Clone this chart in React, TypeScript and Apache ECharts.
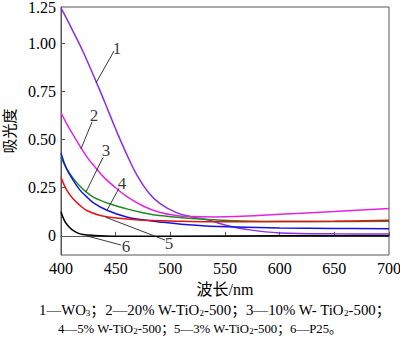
import React, { useEffect, useRef } from "react";
import * as echarts from "echarts";

const xTicksMin = 400;
const xTicksMax = 700;
const xInterval = 50;

const yTickValues = [0, 0.25, 0.5, 0.75, 1.0, 1.19];
const yTickLabels = ["0", "0.25", "0.50", "0.75", "1.00", "1.25"];

const wl1 = [400, 410, 420, 430, 440, 450, 460, 470, 480, 490, 505, 520, 536, 550, 570, 600, 650, 700];
const ab1 = [1.185, 1.075, 0.96, 0.83, 0.695, 0.555, 0.425, 0.31, 0.225, 0.17, 0.122, 0.098, 0.08, 0.056, 0.033, 0.015, 0.01, 0.009];

const wl2 = [400, 405, 410, 418, 425, 430, 440, 450, 460, 475, 490, 505, 520, 540, 560, 600, 650, 700];
const ab2 = [0.64, 0.585, 0.535, 0.46, 0.4, 0.365, 0.3, 0.25, 0.205, 0.155, 0.122, 0.106, 0.1, 0.098, 0.1, 0.112, 0.126, 0.142];

const wl3 = [400, 405, 411, 417, 423, 430, 445, 460, 475, 490, 520, 540, 560, 600, 650, 700];
const ab3 = [0.41, 0.35, 0.3, 0.26, 0.228, 0.2, 0.165, 0.14, 0.12, 0.105, 0.09, 0.083, 0.078, 0.074, 0.074, 0.076];

const wl4 = [400, 405, 411, 417, 423, 430, 442, 460, 475, 490, 510, 536, 560, 600, 650, 700];
const ab4 = [0.43, 0.35, 0.29, 0.24, 0.205, 0.17, 0.133, 0.098, 0.083, 0.072, 0.06, 0.05, 0.046, 0.041, 0.038, 0.037];

const wl5 = [400, 405, 411, 418, 424, 435, 445, 460, 475, 500, 536, 600, 650, 700];
const ab5 = [0.305, 0.24, 0.193, 0.155, 0.13, 0.107, 0.096, 0.087, 0.081, 0.077, 0.073, 0.074, 0.076, 0.081];

const wl6 = [400, 403, 406, 410, 415, 420, 430, 450, 500, 600, 700];
const ab6 = [0.125, 0.08, 0.055, 0.032, 0.015, 0.007, 0.002, -0.002, -0.003, 0, 0];

const curveNames = ["1", "2", "3", "4", "5", "6"];
const curveColors = ["#8a2ee6", "#e424e4", "#1e8c1e", "#1414e0", "#e41414", "#000000"];

// annotation: label position, leader start, leader end (data coordinates)
const annotLabels = [
  [451.2, 0.976],
  [430.2, 0.624],
  [441.2, 0.443],
  [455.8, 0.272],
  [498.8, -0.038],
  [459.5, -0.058],
];
const annotFrom = [
  [448.5, 0.961],
  [428.4, 0.593],
  [438.4, 0.407],
  [453.0, 0.247],
  [495.1, -0.022],
  [454.9, -0.048],
];
const annotTo = [
  [432.0, 0.795],
  [418.3, 0.452],
  [422.9, 0.228],
  [442.1, 0.133],
  [441.0, 0.096],
  [423.0, 0.0],
];

const captionLine1 = "1—WO{s|3}；2—20% W-TiO{s|2}-500；3—10% W- TiO{s|2}-500；";
const captionLine2 = "4—5% W-TiO{s|2}-500；5—3% W-TiO{s|2}-500；6—P25。";

const serif = "Liberation Serif, Noto Sans CJK SC, serif";

function zip(xs: number[], ys: number[]) {
  return xs.map((x, i) => [x, ys[i]]);
}

export default function App() {
  const ref = useRef<HTMLDivElement>(null);
  useEffect(() => {
    if (!ref.current) return;
    const chart = echarts.init(ref.current, null, { renderer: "svg" });
    const datasets = [zip(wl1, ab1), zip(wl2, ab2), zip(wl3, ab3), zip(wl4, ab4), zip(wl5, ab5), zip(wl6, ab6)];
    const curveSeries = datasets.map((d, i) => ({
      type: "line",
      name: curveNames[i],
      data: d,
      smooth: 0.4,
      showSymbol: false,
      symbol: "none",
      lineStyle: { color: curveColors[i], width: 1.5 },
      itemStyle: { color: curveColors[i] },
      z: 3,
    }));
    const leaderSeries = annotFrom.map((f, i) => ({
      type: "line",
      data: [f, annotTo[i]],
      symbol: "none",
      silent: true,
      lineStyle: { color: "#222", width: 0.9 },
      z: 4,
    }));
    const labelSeries = {
      type: "scatter",
      data: annotLabels.map((p, i) => [p[0], p[1], curveNames[i]]),
      symbolSize: 0,
      silent: true,
      label: {
        show: true,
        position: "inside",
        formatter: (p: any) => p.value[2],
        fontFamily: "Liberation Serif",
        fontSize: 17,
        color: "#000",
      },
      z: 5,
    };
    const rich = { s: { fontSize: 9, fontFamily: "Liberation Serif", verticalAlign: "bottom", lineHeight: 10 } };
    const option: any = {
      animation: false,
      backgroundColor: "#fff",
      grid: {
        left: 61,
        right: 11,
        top: 7,
        bottom: 92,
        containLabel: false,
        outerBoundsMode: "none",
        show: true,
        borderColor: "#555",
        borderWidth: 1,
        backgroundColor: "transparent",
      },
      xAxis: {
        type: "value",
        min: xTicksMin,
        max: xTicksMax,
        interval: xInterval,
        name: "波长/nm",
        nameLocation: "middle",
        nameGap: 26,
        nameTextStyle: { fontFamily: serif, fontSize: 16, color: "#000" },
        axisLine: { lineStyle: { color: "#555", width: 1 } },
        axisTick: { inside: true, length: 4, lineStyle: { color: "#555" } },
        axisLabel: { fontFamily: "Liberation Serif", fontSize: 16, color: "#000", margin: 5 },
        splitLine: { show: false },
      },
      yAxis: {
        type: "value",
        min: -0.1,
        max: 1.19,
        name: "吸光度",
        nameLocation: "middle",
        nameRotate: 90,
        nameGap: 41,
        nameTextStyle: { fontFamily: serif, fontSize: 15, color: "#000" },
        axisLine: { lineStyle: { color: "#555", width: 1 } },
        axisTick: {
          inside: true,
          length: 4,
          lineStyle: { color: "#555" },
          customValues: yTickValues.slice(0, 5),
        },
        axisLabel: {
          fontFamily: "Liberation Serif",
          fontSize: 16,
          color: "#000",
          margin: 5,
          customValues: yTickValues,
          formatter: (v: number) => {
            const idx = yTickValues.findIndex((t) => Math.abs(t - v) < 1e-6);
            return idx >= 0 ? yTickLabels[idx] : "";
          },
        },
        splitLine: { show: false },
      },
      series: [...curveSeries, ...leaderSeries, labelSeries],
      graphic: [
        {
          type: "text",
          left: 39,
          top: 303,
          style: {
            text: captionLine1,
            font: `14.8px ${serif}`,
            fill: "#000",
            rich,
          },
        },
        {
          type: "text",
          left: 58,
          top: 323,
          style: {
            text: captionLine2,
            font: `12.8px ${serif}`,
            fill: "#000",
            rich,
          },
        },
      ],
    };
    chart.setOption(option);
    return () => chart.dispose();
  }, []);
  return (
    <div
      ref={ref}
      style={{ position: "fixed", left: 0, top: 0, width: 400, height: 347, background: "#fff" }}
    />
  );
}
